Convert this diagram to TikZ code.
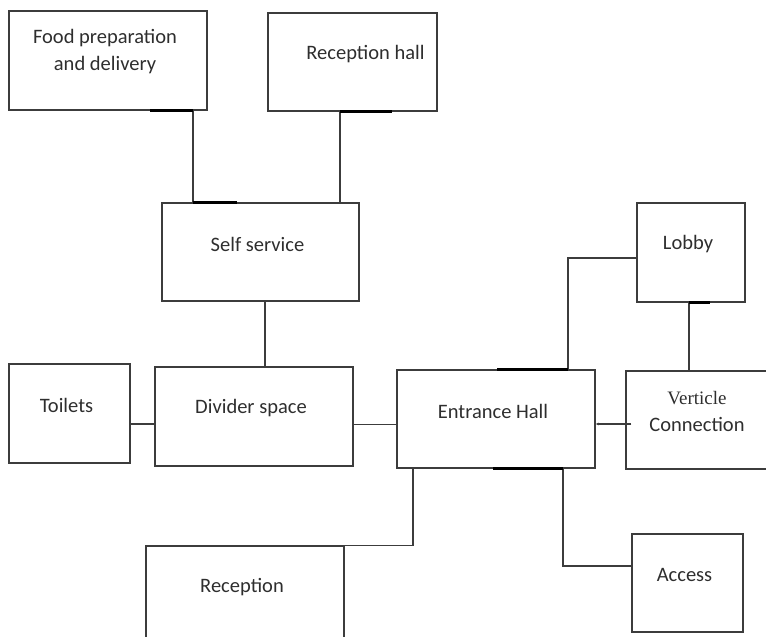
\documentclass[tikz,border=0pt]{standalone}
\usepackage{fontspec}
\setmainfont{Carlito}
\newfontfamily\serifnote{Liberation Serif}
\usepackage{tikz}
\usetikzlibrary{calc, arrows.meta, positioning}
\definecolor{linegray}{HTML}{3C3C3C}
\definecolor{textgray}{HTML}{2E2E2E}

\begin{document}
\begin{tikzpicture}[
  x=1pt, y=-1pt,
  room/.style={rectangle, draw=linegray, line width=1.3pt, minimum height=98pt, inner sep=0pt},
  roomtext/.style={font=\fontsize{20.5}{27}\selectfont, text=textgray, align=center, xshift=-3pt, yshift=8pt},
  link/.style={draw=linegray, line width=1.3pt},
  joint/.style={black, line width=2.4pt}
]
\useasboundingbox (0,0) rectangle (766,637);
\clip (0,0) rectangle (766,637);

% Upper rooms
\node[room, minimum width=198pt, minimum height=99pt, label={[roomtext, yshift=1pt]center:Food preparation\\and delivery}] (food) at (108,60.5) {};
\node[room, minimum width=169pt, label={[roomtext, xshift=16pt]center:Reception hall}] (hall) at (352.5,62) {};
\node[room, minimum width=197pt, label={[roomtext]center:Self service}] (self) at (260.5,252) {};
\node[room, minimum width=108pt, minimum height=99pt, label={[roomtext]center:Lobby}] (lobby) at (691,252.5) {};

% Middle row
\node[room, minimum width=121pt, minimum height=99pt, label={[roomtext]center:Toilets}] (toilets) at (69.5,413.5) {};
\node[room, minimum width=198pt, minimum height=99pt, label={[roomtext]center:Divider space}] (divider) at (254,416.5) {};
\node[room, minimum width=198pt, label={[roomtext]center:Entrance Hall}] (entrance) at (496,419) {};
\node[room, minimum width=142pt, label={[roomtext, xshift=3pt, yshift=1pt]center:{\serifnote\fontsize{19}{29}\selectfont Verticle}\\Connection}] (vert) at (697,420) {};

% Lower rooms
\node[room, minimum width=198pt, label={[roomtext]center:Reception}] (reception) at (245,595) {};
\node[room, minimum width=111pt, label={[roomtext]center:Access}] (access) at (687.5,583) {};

% Attachment points
\coordinate (fs) at ([xshift=85pt]food.south);
\coordinate (hs) at ([xshift=-12.5pt]hall.south);
\coordinate (ss) at ([xshift=4.5pt]self.south);
\coordinate (te) at ([yshift=-10.5pt]toilets.east);
\coordinate (de) at ([yshift=-8pt]divider.east);
\coordinate (en) at ([xshift=72pt]entrance.north);
\coordinate (lw) at ([yshift=-5.5pt]lobby.west);
\coordinate (ls) at ([xshift=-2pt]lobby.south);
\coordinate (vw) at ([xshift=6pt, yshift=-4pt]vert.west);
\coordinate (es1) at ([xshift=-83pt]entrance.south);
\coordinate (es2) at ([xshift=67pt]entrance.south);
\coordinate (aw) at ([yshift=17pt]access.west);

% Connections
\draw[link] (fs) -- (fs |- self.north);
\draw[link] (hs) -- (hs |- self.north);
\draw[link] (ss) -- (ss |- divider.north);
\draw[link] (te) -- (te -| divider.west);
\draw[link] (de) -- (de -| entrance.west);
\draw[link] (en) |- (lw);
\draw[link] (ls) -- (ls |- vert.north);
\draw[link, -{Latex[length=3pt, width=3pt]}] (vw) -- (vw -| entrance.east);
\draw[link] (es1) |- (reception.north east);
\draw[link] (es2) |- (aw);

% Heavier joints on the walls
\draw[joint] (fs) -- ++(-43,0);
\draw[joint] (hs) -- ++(52,0);
\draw[joint] (fs |- self.north) -- ++(44,0);
\draw[joint] (en) -- ++(-71,0);
\draw[joint] (ls) -- ++(21,0);
\draw[joint] (es2) -- ++(-70,0);

\end{tikzpicture}
\end{document}
